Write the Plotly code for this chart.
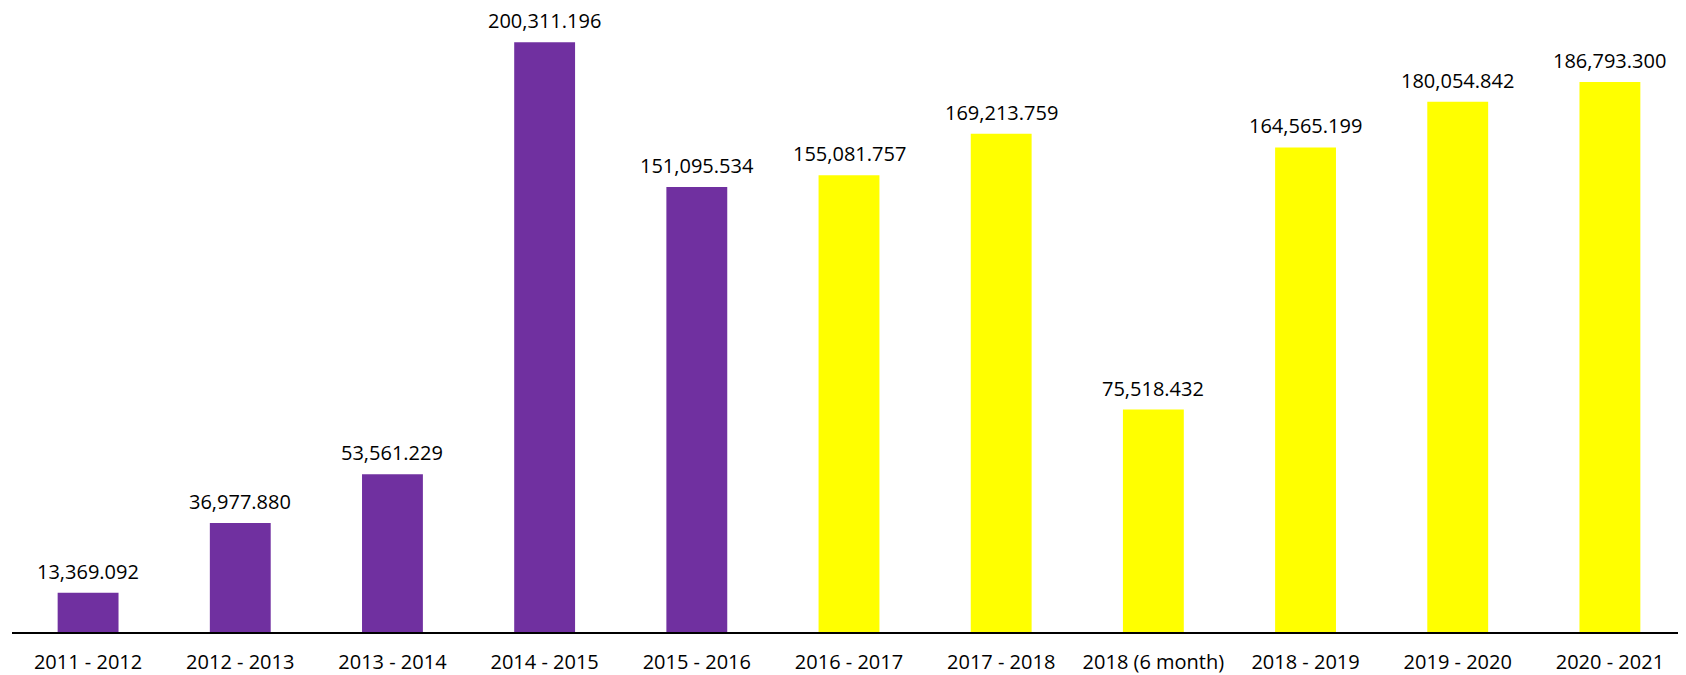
import plotly.graph_objects as go

categories = ["2011 - 2012", "2012 - 2013", "2013 - 2014", "2014 - 2015", "2015 - 2016",
              "2016 - 2017", "2017 - 2018", "2018 (6 month)", "2018 - 2019", "2019 - 2020",
              "2020 - 2021"]
values = [13369.092, 36977.880, 53561.229, 200311.196, 151095.534,
          155081.757, 169213.759, 75518.432, 164565.199, 180054.842, 186793.300]
bar_colors = ["#7030A0"] * 5 + ["#FFFF00"] * 6
labels = ["13,369.092", "36,977.880", "53,561.229", "200,311.196", "151,095.534",
          "155,081.757", "169,213.759", "75,518.432", "164,565.199", "180,054.842",
          "186,793.300"]

FONT = "Open Sans"

fig = go.Figure(go.Bar(x=categories, y=values, marker=dict(color=bar_colors, line=dict(width=0)),
                       hoverinfo="skip"))

for c, v, t in zip(categories, values, labels):
    fig.add_annotation(x=c, y=v, text=t, showarrow=False, yanchor="bottom", yshift=6,
                       font=dict(family=FONT, size=20, color="#000000"))

fig.update_layout(
    width=1678, height=667,
    margin=dict(l=4, r=0, t=0, b=43),
    paper_bgcolor="white", plot_bgcolor="white",
    bargap=0.6,
    showlegend=False,
    xaxis=dict(showline=True, linecolor="black", linewidth=2, showgrid=False,
               ticks="", ticklabelstandoff=11, automargin=False,
               tickfont=dict(family=FONT, size=20, color="#000000"),
               fixedrange=True),
    yaxis=dict(visible=False, range=[0, 211900], showgrid=False, zeroline=False,
               fixedrange=True, automargin=False),
)

fig.write_html("out.html")
